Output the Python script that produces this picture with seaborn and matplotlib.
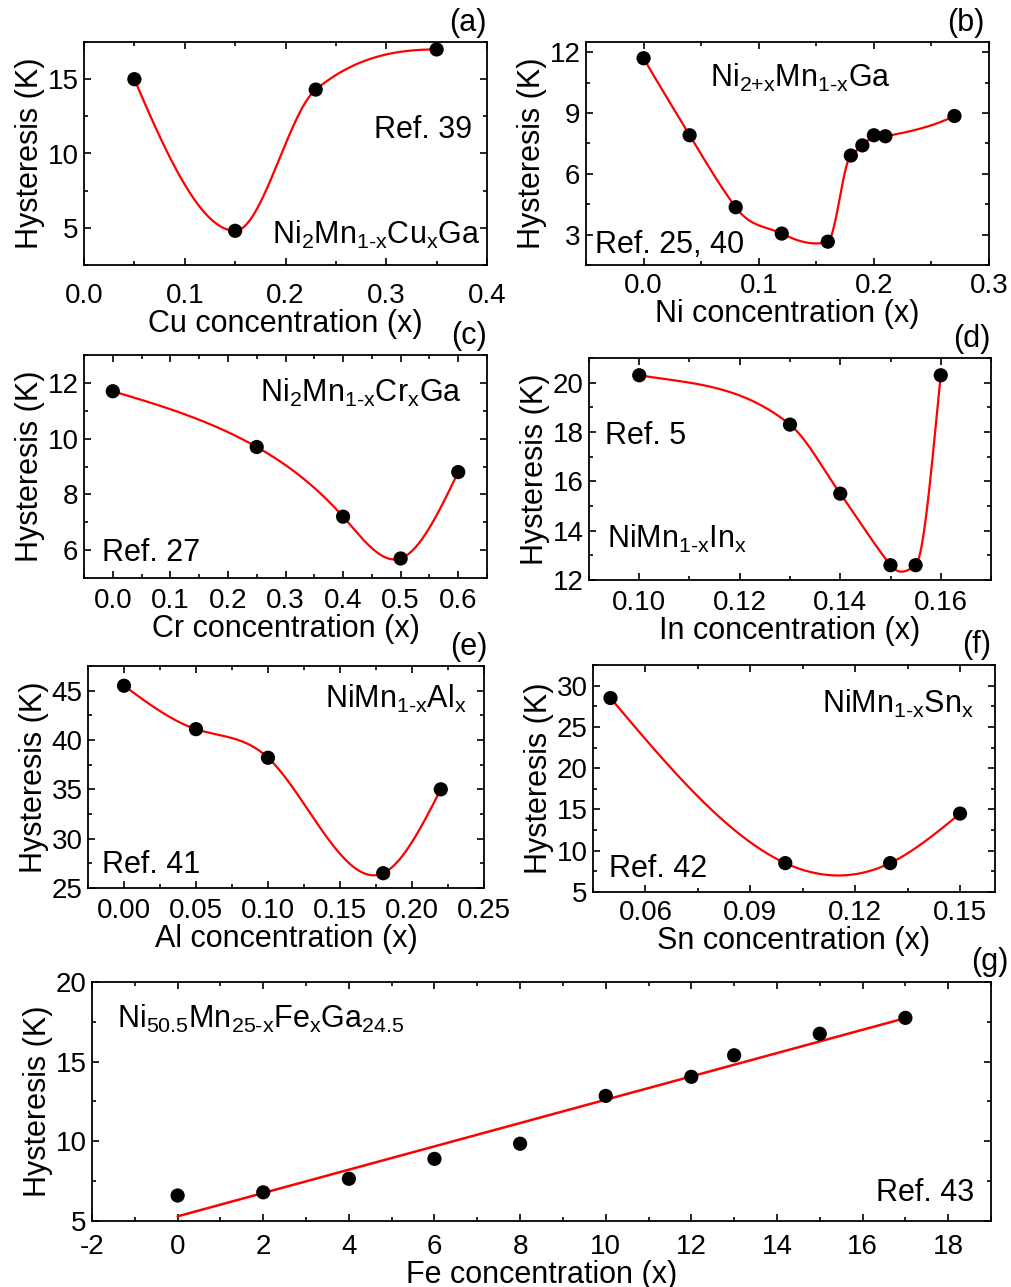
import numpy as np
import pandas as pd
import matplotlib
matplotlib.use("Agg")
import matplotlib.pyplot as plt
from matplotlib.ticker import MultipleLocator, FormatStrFormatter
import seaborn as sns

# ---------------- data ----------------
a_x = [0.05, 0.15, 0.23, 0.35]
a_y = [15.0, 4.8, 14.3, 17.0]

b_x = [0.0, 0.04, 0.08, 0.12, 0.16, 0.18, 0.19, 0.20, 0.21, 0.27]
b_y = [11.7, 7.9, 4.35, 3.05, 2.65, 6.9, 7.4, 7.9, 7.85, 8.85]

c_x = [0.0, 0.25, 0.40, 0.50, 0.60]
c_y = [11.7, 9.7, 7.2, 5.7, 8.8]

d_x = [0.10, 0.13, 0.14, 0.15, 0.155, 0.16]
d_y = [20.3, 18.3, 15.5, 12.6, 12.6, 20.3]

e_x = [0.0, 0.05, 0.10, 0.18, 0.22]
e_y = [45.5, 41.1, 38.2, 26.5, 35.0]

f_x = [0.05, 0.10, 0.13, 0.15]
f_y = [28.5, 8.5, 8.5, 14.5]

g_x = [0, 2, 4, 6, 8, 10, 12, 13, 15, 17]
g_y = [6.6, 6.8, 7.65, 8.9, 9.85, 12.85, 14.05, 15.4, 16.75, 17.75]

# ---------------- smooth curve helpers ----------------
def hermite(x, y, t, n=400):
    x = np.asarray(x, float); y = np.asarray(y, float)
    m = len(x)
    xs = np.linspace(x[0], x[-1], n)
    idx = np.clip(np.searchsorted(x, xs) - 1, 0, m - 2)
    h = x[idx + 1] - x[idx]; u = (xs - x[idx]) / h
    h00 = 2*u**3 - 3*u**2 + 1; h10 = u**3 - 2*u**2 + u
    h01 = -2*u**3 + 3*u**2; h11 = u**3 - u**2
    ys = h00*y[idx] + h10*h*t[idx] + h01*y[idx+1] + h11*h*t[idx+1]
    return xs, ys

def natural_spline(x, y, n=400):
    x = np.asarray(x, float); y = np.asarray(y, float)
    m = len(x); h = np.diff(x)
    A = np.zeros((m, m)); r = np.zeros(m)
    A[0, 0] = 1; A[-1, -1] = 1
    for i in range(1, m - 1):
        A[i, i - 1] = h[i - 1]; A[i, i] = 2 * (h[i - 1] + h[i]); A[i, i + 1] = h[i]
        r[i] = 6 * ((y[i + 1] - y[i]) / h[i] - (y[i] - y[i - 1]) / h[i - 1])
    M = np.linalg.solve(A, r)
    xs = np.linspace(x[0], x[-1], n)
    idx = np.clip(np.searchsorted(x, xs) - 1, 0, m - 2)
    x0 = x[idx]; x1 = x[idx + 1]; hh = x1 - x0
    t0 = x1 - xs; t1 = xs - x0
    ys = (M[idx] * t0**3 / (6 * hh) + M[idx + 1] * t1**3 / (6 * hh)
          + (y[idx] / hh - M[idx] * hh / 6) * t0 + (y[idx + 1] / hh - M[idx + 1] * hh / 6) * t1)
    return xs, ys

def akima_slopes(x, y, modified=False):
    x = np.asarray(x, float); y = np.asarray(y, float)
    m = len(x)
    s = np.diff(y) / np.diff(x)
    s_ext = np.concatenate([[3*s[0]-2*s[1], 2*s[0]-s[1]], s, [2*s[-1]-s[-2], 3*s[-1]-2*s[-2]]])
    t = np.zeros(m)
    for i in range(m):
        m1, m2, m3, m4 = s_ext[i], s_ext[i+1], s_ext[i+2], s_ext[i+3]
        w1 = abs(m4 - m3); w2 = abs(m2 - m1)
        if modified:
            w1 += abs(m4 + m3) / 2; w2 += abs(m2 + m1) / 2
        t[i] = (m2 + m3) / 2 if w1 + w2 == 0 else (w1 * m2 + w2 * m3) / (w1 + w2)
    return s, t

def akima(x, y, n=400):
    s, t = akima_slopes(x, y)
    return hermite(x, y, t, n)

def makima_tamed(x, y, n=400, clamp_extrema=False):
    s, t = akima_slopes(x, y, modified=True)
    if clamp_extrema:
        for i in range(1, len(x) - 1):
            if s[i-1] * s[i] < 0:
                t[i] = 0.0
    for i, si in ((0, s[0]), (-1, s[-1])):
        if np.sign(t[i]) != np.sign(si):
            t[i] = 0.5 * si if i == 0 else 0.0
    return hermite(x, y, t, n)

# ---------------- style ----------------
sns.set_theme(style="ticks")
plt.rcParams["font.family"] = ["Liberation Sans", "DejaVu Sans"]
plt.rcParams["mathtext.fontset"] = "custom"
plt.rcParams["mathtext.rm"] = "Liberation Sans"
plt.rcParams["mathtext.it"] = "Liberation Sans"
plt.rcParams["mathtext.default"] = "rm"
plt.rcParams["axes.unicode_minus"] = False
plt.rcParams["axes.linewidth"] = 1.3
for k in ["text.color", "axes.labelcolor", "xtick.color", "ytick.color", "axes.edgecolor",
          "xtick.labelcolor", "ytick.labelcolor"]:
    plt.rcParams[k] = "black"

TICK = 20
LAB = 22

fig = plt.figure(figsize=(10.12, 12.87), dpi=100)
W, H = 1012.0, 1287.0

def make_ax(l, r, t, b):
    return fig.add_axes([l / W, 1 - b / H, (r - l) / W, (b - t) / H])

def style(ax, xlim, ylim, xmaj, xmin, ymaj, ymin, xfmt, xlabel, xpad=7, letter=None, lx=None):
    ax.set_xlim(*xlim); ax.set_ylim(*ylim)
    ax.xaxis.set_major_locator(MultipleLocator(xmaj))
    ax.xaxis.set_minor_locator(MultipleLocator(xmin))
    ax.yaxis.set_major_locator(MultipleLocator(ymaj))
    ax.yaxis.set_minor_locator(MultipleLocator(ymin))
    ax.xaxis.set_major_formatter(FormatStrFormatter(xfmt))
    ax.tick_params(which="both", direction="in", top=True, right=True, width=1.2, colors="black")
    ax.tick_params(which="major", length=5)
    ax.tick_params(which="minor", length=3)
    ax.tick_params(axis="x", which="major", labelsize=TICK, pad=xpad)
    ax.tick_params(axis="y", which="major", labelsize=TICK, pad=4)
    ax.set_xlabel(xlabel, fontsize=LAB, labelpad=0)
    ax.set_ylabel("Hysteresis (K)", fontsize=LAB, labelpad=2)
    for sp in ax.spines.values():
        sp.set_color("black")
    if letter:
        ax.text(lx, 1.02, letter, transform=ax.transAxes, ha="right", va="bottom", fontsize=LAB)

def draw(ax, x, y, curve):
    xs, ys = curve(x, y)
    sns.lineplot(x=xs, y=ys, ax=ax, color="red", linewidth=1.6, sort=False, zorder=2)
    sns.scatterplot(x=x, y=y, ax=ax, color="black", s=105, edgecolor="none", zorder=3)

# (a)
ax = make_ax(84, 487, 42, 265)
draw(ax, a_x, a_y, lambda x, y: makima_tamed(x, y, clamp_extrema=True))
style(ax, (0, 0.4), (2.5, 17.5), 0.1, 0.05, 5, 2.5, "%.1f", "Cu concentration (x)", xpad=13, letter="(a)", lx=1.0)
ax.text(0.963, 0.57, "Ref. 39", transform=ax.transAxes, ha="right", va="baseline", fontsize=LAB)
ax.text(0.985, 0.095, r"Ni$_{2}$Mn$_{1\text{-}x}$Cu$_{x}$Ga", transform=ax.transAxes, ha="right", va="baseline", fontsize=LAB)

# (b)
ax = make_ax(586, 989, 42, 265)
draw(ax, b_x, b_y, akima)
style(ax, (-0.05, 0.3), (1.5, 12.5), 0.1, 0.05, 3, 1.5, "%.1f", "Ni concentration (x)", xpad=6, letter="(b)", lx=0.99)
ax.text(0.531, 0.80, r"Ni$_{\text{2+x}}$Mn$_{1\text{-}x}$Ga", transform=ax.transAxes, ha="center", va="baseline", fontsize=LAB)
ax.text(0.022, 0.054, "Ref. 25, 40", transform=ax.transAxes, ha="left", va="baseline", fontsize=LAB)

# (c)
ax = make_ax(84, 487, 355, 578)
draw(ax, c_x, c_y, natural_spline)
style(ax, (-0.05, 0.65), (5, 13), 0.1, 0.05, 2, 1, "%.1f", "Cr concentration (x)", xpad=7, letter="(c)", lx=1.0)
ax.text(0.938, 0.79, r"Ni$_{2}$Mn$_{1\text{-}x}$Cr$_{x}$Ga", transform=ax.transAxes, ha="right", va="baseline", fontsize=LAB)
ax.text(0.045, 0.076, "Ref. 27", transform=ax.transAxes, ha="left", va="baseline", fontsize=LAB)

# (d)
ax = make_ax(589, 991, 358, 580)
draw(ax, d_x, d_y, makima_tamed)
style(ax, (0.09, 0.17), (12, 21), 0.02, 0.01, 2, 1, "%.2f", "In concentration (x)", xpad=7, letter="(d)", lx=1.0)
ax.text(0.04, 0.613, "Ref. 5", transform=ax.transAxes, ha="left", va="baseline", fontsize=LAB)
ax.text(0.045, 0.144, r"NiMn$_{1\text{-}x}$In$_{x}$", transform=ax.transAxes, ha="left", va="baseline", fontsize=LAB)

# (e)
ax = make_ax(88, 484, 666, 888)
draw(ax, e_x, e_y, natural_spline)
style(ax, (-0.025, 0.25), (25, 47.5), 0.05, 0.025, 5, 2.5, "%.2f", "Al concentration (x)", xpad=7, letter="(e)", lx=1.01)
ax.text(0.957, 0.81, r"NiMn$_{1\text{-}x}$Al$_{x}$", transform=ax.transAxes, ha="right", va="baseline", fontsize=LAB)
ax.text(0.035, 0.068, "Ref. 41", transform=ax.transAxes, ha="left", va="baseline", fontsize=LAB)

# (f)
ax = make_ax(593, 995, 665, 892)
draw(ax, f_x, f_y, natural_spline)
style(ax, (0.045, 0.16), (5, 32.5), 0.03, 0.015, 5, 2.5, "%.2f", "Sn concentration (x)", xpad=6, letter="(f)", lx=0.99)
ax.text(0.948, 0.79, r"NiMn$_{1\text{-}x}$Sn$_{x}$", transform=ax.transAxes, ha="right", va="baseline", fontsize=LAB)
ax.text(0.04, 0.066, "Ref. 42", transform=ax.transAxes, ha="left", va="baseline", fontsize=LAB)

# (g)
ax = make_ax(92, 991, 982, 1221)
coef = np.polyfit(g_x, g_y, 1)
gx_line = np.array([min(g_x), max(g_x)], float)
sns.lineplot(x=gx_line, y=np.polyval(coef, gx_line), ax=ax, color="red", linewidth=1.8, zorder=2)
sns.scatterplot(x=g_x, y=g_y, ax=ax, color="black", s=105, edgecolor="none", zorder=3)
style(ax, (-2, 19), (5, 20), 2, 1, 5, 2.5, "%d", "Fe concentration (x)", xpad=9, letter="(g)", lx=1.02)
ax.xaxis.label.set_fontsize(LAB)
ax.text(0.028, 0.81, r"Ni$_{50.5}$Mn$_{25\text{-}x}$Fe$_{x}$Ga$_{24.5}$", transform=ax.transAxes, ha="left", va="baseline", fontsize=LAB)
ax.text(0.981, 0.084, "Ref. 43", transform=ax.transAxes, ha="right", va="baseline", fontsize=LAB)

fig.savefig("out.png", dpi=100, facecolor="white")
